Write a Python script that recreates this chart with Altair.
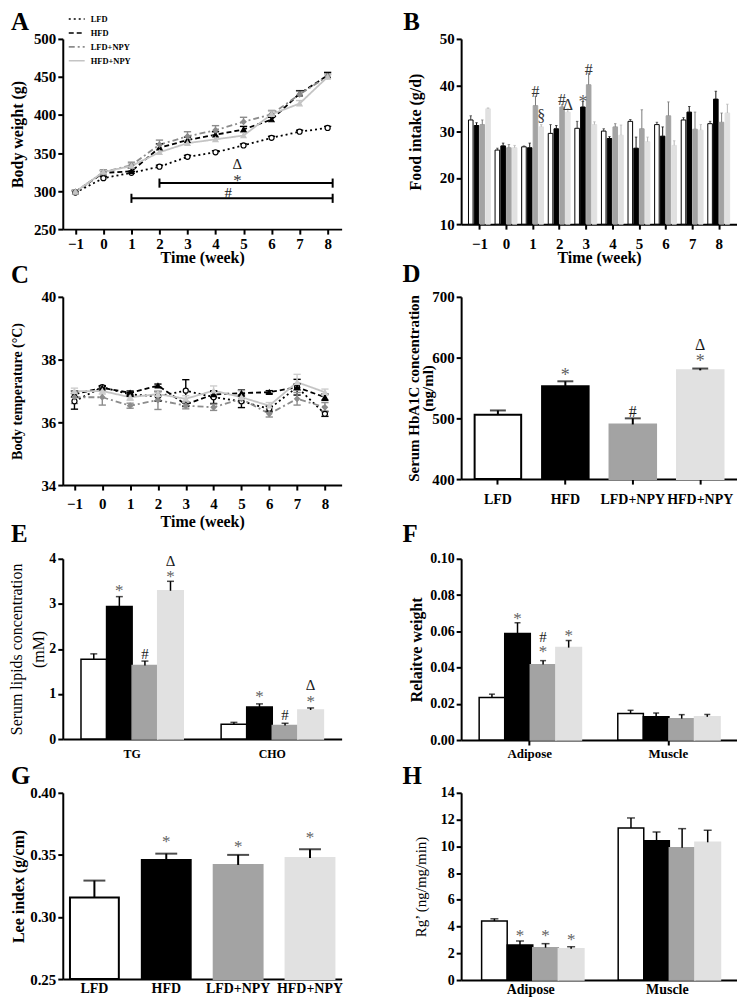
import altair as alt
import pandas as pd

FONT = "Liberation Serif"
SERIES = ["LFD", "HFD", "LFD+NPY", "HFD+NPY"]
SERIES_JS = "['LFD', 'HFD', 'LFD+NPY', 'HFD+NPY']"
WEEKS = [-1, 0, 1, 2, 3, 4, 5, 6, 7, 8]

# ---------------- A: body weight (g) ----------------
A_LFD = [298, 317, 324, 332, 345, 351, 360, 370, 378, 383]
A_HFD = [299, 324, 326, 357, 367, 374, 381, 394, 428, 452]
A_LFD_NPY = [299, 325, 334, 361, 372, 380, 391, 401, 427, 451]
A_HFD_NPY = [299, 325, 333, 351, 363, 368, 373, 401, 415, 450]
A_LFD_SEM = [2, 2, 2, 2, 2, 2, 2, 2, 2, 2]
A_HFD_SEM = [2, 3, 4, 5, 4, 4, 4, 3, 4, 4]
A_LFD_NPY_SEM = [2, 3, 4, 6, 6, 6, 6, 5, 4, 3]
A_HFD_NPY_SEM = [2, 2, 3, 4, 4, 4, 4, 4, 4, 3]
A_BRACKET_FROM = [2, 1]
A_BRACKET_TO = [8.18, 8.18]
A_BRACKET_Y = [310.5, 290.5]
A_SIG_X = [4.78, 4.78, 4.45]
A_SIG_Y = [336, 318, 297]
A_SIG_TEXT = ["Δ", "*", "#"]

# ---------------- B: food intake (g/d) ----------------
B_LFD = [32.5, 26.0, 26.7, 29.6, 30.7, 30.1, 32.2, 31.5, 32.5, 31.7]
B_HFD = [31.3, 26.9, 26.5, 30.6, 35.3, 28.5, 26.4, 29.0, 34.2, 37.0]
B_LFD_NPY = [31.5, 26.5, 35.6, 35.3, 40.1, 31.0, 30.6, 33.4, 30.5, 32.0]
B_HFD_NPY = [34.9, 26.5, 31.0, 34.2, 31.5, 29.2, 27.8, 27.0, 30.3, 34.0]
B_LFD_ERR = [0.9, 0.4, 0.2, 1.9, 1.5, 0.5, 0.4, 0.5, 0.5, 0.5]
B_HFD_ERR = [0.6, 0.6, 1.0, 0.7, 1.2, 0.4, 2.4, 2.0, 1.2, 1.7]
B_LFD_NPY_ERR = [1.0, 0.7, 2.0, 0.5, 2.5, 0.7, 4.1, 3.0, 3.7, 2.0]
B_HFD_NPY_ERR = [0.2, 0.5, 0.5, 0.7, 0.6, 2.2, 1.0, 1.0, 1.2, 1.9]
B_SIG_WEEK = [1, 1, 2, 2, 3, 3]
B_SIG_SERIES = ["LFD+NPY", "HFD+NPY", "LFD+NPY", "HFD+NPY", "HFD", "LFD+NPY"]
B_SIG_Y = [38.6, 33.3, 36.9, 35.8, 37.0, 43.3]
B_SIG_TEXT = ["#", "§", "#", "Δ", "*", "#"]

# ---------------- C: body temperature (°C) ----------------
C_LFD = [36.67, 37.12, 36.89, 36.83, 37.01, 36.80, 36.67, 36.43, 37.12, 36.27]
C_HFD = [36.90, 37.10, 36.94, 37.17, 36.57, 36.89, 36.93, 36.96, 37.12, 36.80]
C_LFD_NPY = [36.80, 36.80, 36.53, 36.71, 36.53, 36.48, 36.75, 36.27, 36.75, 36.48]
C_HFD_NPY = [36.99, 37.00, 36.80, 36.90, 36.75, 37.01, 36.80, 36.53, 37.28, 36.96]
C_LFD_SEM = [0.25, 0.05, 0.06, 0.15, 0.35, 0.20, 0.20, 0.08, 0.25, 0.08]
C_HFD_SEM = [0.10, 0.05, 0.06, 0.05, 0.05, 0.10, 0.10, 0.05, 0.10, 0.10]
C_LFD_NPY_SEM = [0.20, 0.25, 0.08, 0.30, 0.10, 0.10, 0.10, 0.10, 0.20, 0.15]
C_HFD_NPY_SEM = [0.10, 0.10, 0.10, 0.10, 0.10, 0.15, 0.20, 0.10, 0.25, 0.10]

# ---------------- D: serum HbA1C (ng/ml) ----------------
D_MEAN = [506, 553, 490, 579]
D_ERR = [7, 8, 10, 3]
D_SIG_SERIES = ["HFD", "LFD+NPY", "HFD+NPY", "HFD+NPY"]
D_SIG_Y = [577, 510, 600, 621]
D_SIG_TEXT = ["*", "#", "*", "Δ"]

# ---------------- E: serum lipids (mM) ----------------
E_GROUPS = ["TG", "CHO"]
E_LFD = [1.77, 0.33]
E_HFD = [2.94, 0.71]
E_LFD_NPY = [1.63, 0.30]
E_HFD_NPY = [3.29, 0.645]
E_LFD_ERR = [0.12, 0.04]
E_HFD_ERR = [0.22, 0.07]
E_LFD_NPY_ERR = [0.10, 0.05]
E_HFD_NPY_ERR = [0.21, 0.045]
E_SIG_GROUP = ["TG", "TG", "TG", "TG", "CHO", "CHO", "CHO", "CHO"]
E_SIG_SERIES = ["HFD", "LFD+NPY", "HFD+NPY", "HFD+NPY", "HFD", "LFD+NPY", "HFD+NPY", "HFD+NPY"]
E_SIG_Y = [3.37, 1.89, 3.94, 3.68, 1.01, 0.53, 1.19, 0.90]
E_SIG_TEXT = ["*", "#", "Δ", "*", "*", "#", "Δ", "*"]

# ---------------- F: relative weight ----------------
F_GROUPS = ["Adipose", "Muscle"]
F_LFD = [0.0235, 0.0146]
F_HFD = [0.0588, 0.0129]
F_LFD_NPY = [0.0416, 0.0118]
F_HFD_NPY = [0.0510, 0.0128]
F_LFD_ERR = [0.0018, 0.0018]
F_HFD_ERR = [0.0059, 0.0020]
F_LFD_NPY_ERR = [0.0022, 0.0022]
F_HFD_NPY_ERR = [0.0039, 0.0013]
F_SIG_GROUP = ["Adipose", "Adipose", "Adipose", "Adipose"]
F_SIG_SERIES = ["HFD", "LFD+NPY", "LFD+NPY", "HFD+NPY"]
F_SIG_Y = [0.0689, 0.0569, 0.0505, 0.0597]
F_SIG_TEXT = ["*", "#", "*", "*"]

# ---------------- G: Lee index (g/cm) ----------------
G_MEAN = [0.3156, 0.3459, 0.3419, 0.3475]
G_ERR = [0.0137, 0.0051, 0.0081, 0.0070]
G_SIG_SERIES = ["HFD", "LFD+NPY", "HFD+NPY"]
G_SIG_Y = [0.3638, 0.3593, 0.3665]
G_SIG_TEXT = ["*", "*", "*"]

# ---------------- H: Rg' (ng/mg/min) ----------------
H_GROUPS = ["Adipose", "Muscle"]
H_LFD = [4.41, 11.37]
H_HFD = [2.62, 10.42]
H_LFD_NPY = [2.42, 9.90]
H_HFD_NPY = [2.34, 10.30]
H_LFD_ERR = [0.17, 0.75]
H_HFD_ERR = [0.30, 0.65]
H_LFD_NPY_ERR = [0.30, 1.42]
H_HFD_NPY_ERR = [0.15, 0.90]
H_SIG_GROUP = ["Adipose", "Adipose", "Adipose"]
H_SIG_SERIES = ["HFD", "LFD+NPY", "HFD+NPY"]
H_SIG_Y = [3.6, 3.6, 3.3]
H_SIG_TEXT = ["*", "*", "*"]

PANEL_LETTERS = ["A", "B", "C", "D", "E", "F", "G", "H"]


# ================= helpers =================
def letter_layer(t, dx, dy):
    # panel letter, placed relative to the panel's top-left corner
    return alt.Chart(pd.DataFrame({"t": [t]})).mark_text(
        align="left", baseline="alphabetic", font=FONT, fontSize=25, fontWeight="bold",
        color="black", dx=dx, dy=dy).encode(text="t:N", x=alt.value(0), y=alt.value(0))


def spacer(w, h):
    return alt.Chart(pd.DataFrame({"s": [0.5]})).mark_point(opacity=0).encode(
        x=alt.X("s:Q", axis=None, scale=alt.Scale(domain=[0, 1])),
        y=alt.Y("s:Q", axis=None, scale=alt.Scale(domain=[0, 1]))).properties(width=w, height=h)


def line_long(means, sems):
    rows = []
    for s, m, e in zip(SERIES, means, sems):
        for w, v, d in zip(WEEKS, m, e):
            rows.append({"week": w, "series": s, "mean": v, "sem": d})
    return pd.DataFrame(rows)


def bar_long(groups, vals, errs):
    rows = []
    for s, vs, es in zip(SERIES, vals, errs):
        for g, v, e in zip(groups, vs, es):
            rows.append({"group": g, "series": s, "mean": v, "err": e})
    return pd.DataFrame(rows)


def sig_layers(chart_base, X, Y, off, size, star_color="#5f5f5f", other_color="#1a1a1a"):
    star = chart_base.transform_filter("datum.label == '*'").mark_text(
        font=FONT, fontSize=size + 2, dy=4, color=star_color).encode(
        x=X, y=Y("y"), text="label:N", **off)
    other = chart_base.transform_filter("datum.label != '*'").mark_text(
        font=FONT, fontSize=size, color=other_color).encode(
        x=X, y=Y("y"), text="label:N", **off)
    return [star, other]


def line_panel(df, *, width, height, xdom, ydom, yticks, ytitle, ytitle_size,
               xtitle_y, xlab_pad, colors, dashes, shapes, fills,
               leg_x, leg_y, leg_rowpad, two_sided, cap_w, letter, extra=None):
    xs = alt.Scale(domain=xdom, nice=False, zero=False)
    ys = alt.Scale(domain=ydom, nice=False, zero=False)
    xax = alt.Axis(values=WEEKS, format="d", title="Time (week)", titleFontSize=16,
                   titleY=xtitle_y, titleBaseline="middle", labelFontSize=15,
                   labelPadding=xlab_pad, offset=0)
    yax = alt.Axis(values=yticks, title=ytitle, titleFontSize=ytitle_size, titleX=-45,
                   titleBaseline="middle", labelFontSize=15, labelPadding=2, offset=0)

    def X(f="week"):
        return alt.X(f + ":Q", scale=xs, axis=xax)

    def Y(f):
        return alt.Y(f + ":Q", scale=ys, axis=yax)

    leg = alt.Legend(orient="none", legendX=leg_x, legendY=leg_y, title=None,
                     symbolType="stroke", symbolSize=256, symbolStrokeWidth=1.6,
                     labelFont=FONT, labelFontWeight="bold", labelFontSize=8.5,
                     labelColor="black", labelOffset=5, rowPadding=leg_rowpad, padding=0,
                     offset=0)
    col = alt.Color("series:N", scale=alt.Scale(domain=SERIES, range=colors), legend=leg)
    dash = alt.StrokeDash("series:N", scale=alt.Scale(domain=SERIES, range=dashes), legend=leg)
    lo_expr = "datum.mean - datum.sem" if two_sided else "datum.mean"
    base = alt.Chart(df).transform_calculate(
        lo=lo_expr, hi="datum.mean + datum.sem",
        cl=f"datum.week - {cap_w}", cr=f"datum.week + {cap_w}")
    layers = [base.mark_line(strokeWidth=1.8).encode(x=X(), y=Y("mean"), color=col, strokeDash=dash)]
    for s, c in zip(SERIES, colors):
        b = base.transform_filter(alt.datum.series == s)
        layers.append(b.mark_rule(strokeWidth=1.4, color=c).encode(x=X(), y=Y("lo"), y2="hi:Q"))
        layers.append(b.mark_rule(strokeWidth=1.4, color=c).encode(x=X("cl"), x2="cr:Q", y=Y("hi")))
        if two_sided:
            layers.append(b.mark_rule(strokeWidth=1.4, color=c).encode(x=X("cl"), x2="cr:Q", y=Y("lo")))
    for s, c, sh, f in zip(SERIES, colors, shapes, fills):
        b = base.transform_filter(alt.datum.series == s)
        layers.append(b.mark_point(shape=sh, size=26, opacity=1, strokeWidth=1.2, fill=f,
                                   stroke=c, filled=False).encode(x=X(), y=Y("mean")))
    if extra is not None:
        layers.extend(extra(X, Y))
    layers.append(letter)
    return alt.layer(*layers).properties(width=width, height=height)


def bar_panel(df, sig, *, width, height, groups, grouped, ydom, yticks, yfmt, ylab_size,
              ytitle, ytitle_size, ytitle_weight, ytitle_x, ytitle_lh,
              xlab_size, xlab_pad, xticks,
              pad_inner, pad_outer, fills, strokes, bar_sw,
              err_sw, cap, legend, letter, sig_size):
    X = alt.X("group:N", sort=groups,
              scale=alt.Scale(domain=groups, paddingInner=pad_inner, paddingOuter=pad_outer),
              axis=alt.Axis(title=None, labelAngle=0, ticks=xticks, labelFontSize=xlab_size,
                            labelPadding=xlab_pad, offset=0))
    ys = alt.Scale(domain=ydom, nice=False, zero=False)
    yax = alt.Axis(values=yticks, format=yfmt, labelFontSize=ylab_size, labelPadding=2,
                   title=ytitle, titleFontSize=ytitle_size, titleFontWeight=ytitle_weight,
                   titleX=ytitle_x, titleBaseline="middle", titleLineHeight=ytitle_lh, offset=0)

    def Y(f):
        return alt.Y(f + ":Q", scale=ys, axis=yax)

    off = {}
    if grouped:
        off = {"xOffset": alt.XOffset("series:N", sort=SERIES,
                                      scale=alt.Scale(domain=SERIES, paddingInner=0,
                                                      paddingOuter=0))}
    fill = alt.Fill("series:N", scale=alt.Scale(domain=SERIES, range=fills), legend=legend)
    stroke = alt.Stroke("series:N", scale=alt.Scale(domain=SERIES, range=strokes), legend=legend)
    base = alt.Chart(df).transform_calculate(hi="datum.mean + datum.err")
    layers = [
        base.mark_bar(strokeWidth=bar_sw).encode(
            x=X, y=Y("mean"), y2=alt.datum(ydom[0]), fill=fill, stroke=stroke, **off),
        base.mark_rule(strokeWidth=err_sw, color="black").encode(x=X, y=Y("mean"), y2="hi:Q", **off),
        base.mark_tick(orient="horizontal", size=cap, thickness=err_sw, color="black").encode(
            x=X, y=Y("hi"), **off),
    ]
    layers.extend(sig_layers(alt.Chart(sig), X, Y, off, sig_size))
    layers.append(letter)
    return alt.layer(*layers).properties(width=width, height=height)


def bar_legend(lx, ly):
    return alt.Legend(orient="none", legendX=lx, legendY=ly, title=None,
                      symbolType="M-1,-0.38H1V0.38H-1Z", symbolSize=144, symbolStrokeWidth=1,
                      labelFont=FONT, labelFontWeight="bold", labelFontSize=8.5,
                      labelColor="black", labelOffset=4, rowPadding=-3, padding=0, offset=0)


LW, RW = 280, 277

# ---------------- build A ----------------
dfA = line_long([A_LFD, A_HFD, A_LFD_NPY, A_HFD_NPY],
                [A_LFD_SEM, A_HFD_SEM, A_LFD_NPY_SEM, A_HFD_NPY_SEM])
brk = pd.DataFrame({"x1": A_BRACKET_FROM, "x2": A_BRACKET_TO, "y": A_BRACKET_Y})
sigA = pd.DataFrame({"x": A_SIG_X, "y": A_SIG_Y, "label": A_SIG_TEXT})


def extraA(X, Y):
    b = alt.Chart(brk).transform_calculate(lo="datum.y - 6", hi="datum.y + 6")
    h = b.mark_rule(strokeWidth=2, color="black").encode(x=X("x1"), x2="x2:Q", y=Y("y"))
    l = b.mark_rule(strokeWidth=2, color="black").encode(x=X("x1"), y=Y("lo"), y2="hi:Q")
    r = b.mark_rule(strokeWidth=2, color="black").encode(x=X("x2"), y=Y("lo"), y2="hi:Q")
    t = sig_layers(alt.Chart(sigA), X("x"), Y, {}, 15, star_color="#333333")
    return [h, l, r] + t


chartA = line_panel(
    dfA, width=LW, height=191, xdom=[-1.45, 8.5], ydom=[250, 500],
    yticks=[250, 300, 350, 400, 450, 500], ytitle="Body weight (g)", ytitle_size=16,
    xtitle_y=29, xlab_pad=2,
    colors=["black", "black", "#8c8c8c", "#c4c4c4"],
    dashes=[[2, 3], [5, 3], [6, 3, 2, 3], [1, 0]],
    shapes=["circle", "triangle-up", "diamond", "triangle-up"],
    fills=["white", "black", "#8c8c8c", "#c4c4c4"],
    leg_x=5, leg_y=-5, leg_rowpad=-7, two_sided=False, cap_w=0.13,
    letter=letter_layer(PANEL_LETTERS[0], -52, -9), extra=extraA)

# ---------------- build B (bars placed on a week axis) ----------------
B_SUBSTEP = 0.2166
dfB = pd.DataFrame([
    {"week": w, "series": s, "mean": v, "err": e}
    for s, vs, es in zip(SERIES, [B_LFD, B_HFD, B_LFD_NPY, B_HFD_NPY],
                         [B_LFD_ERR, B_HFD_ERR, B_LFD_NPY_ERR, B_HFD_NPY_ERR])
    for w, v, e in zip(WEEKS, vs, es)])
sigB = pd.DataFrame({"week": B_SIG_WEEK, "series": B_SIG_SERIES, "y": B_SIG_Y, "label": B_SIG_TEXT})
xpos = f"datum.week + (indexof({SERIES_JS}, datum.series) - 1.5) * {B_SUBSTEP}"
xsB = alt.Scale(domain=[-1.5, 8.5], nice=False, zero=False)
xaxB = alt.Axis(values=WEEKS, format="d", title="Time (week)", titleFontSize=16, titleY=34,
                titleBaseline="middle", labelFontSize=15, labelPadding=7, offset=0)
ysB = alt.Scale(domain=[10, 50], nice=False, zero=False)
yaxB = alt.Axis(values=[10, 20, 30, 40, 50], format="d", labelFontSize=15, labelPadding=2,
                title="Food intake (g/d)", titleFontSize=16, titleX=-46, titleBaseline="middle",
                offset=0)
XB = alt.X("xp:Q", scale=xsB, axis=xaxB)


def YB(f):
    return alt.Y(f + ":Q", scale=ysB, axis=yaxB)


B_FILLS = ["white", "black", "#a3a3a3", "#e1e1e1"]
B_STROKES = ["black", "black", "#a3a3a3", "#e1e1e1"]
B_ERRC = ["#333333", "#111111", "#7a7a7a", "#b5b5b5"]
legB = bar_legend(8, -7)
baseB = alt.Chart(dfB).transform_calculate(xp=xpos, hi="datum.mean + datum.err")
layersB = [baseB.mark_bar(size=4.6, strokeWidth=1).encode(
    x=XB, y=YB("mean"), y2=alt.datum(10),
    fill=alt.Fill("series:N", scale=alt.Scale(domain=SERIES, range=B_FILLS), legend=legB),
    stroke=alt.Stroke("series:N", scale=alt.Scale(domain=SERIES, range=B_STROKES), legend=legB))]
for s, c in zip(SERIES, B_ERRC):
    b = baseB.transform_filter(alt.datum.series == s)
    layersB.append(b.mark_rule(strokeWidth=1, color=c).encode(x=XB, y=YB("mean"), y2="hi:Q"))
    layersB.append(b.mark_tick(orient="horizontal", size=2.5, thickness=1, color=c).encode(
        x=XB, y=YB("hi")))
layersB.extend(sig_layers(alt.Chart(sigB).transform_calculate(xp=xpos), XB, YB, {}, 16,
                          other_color="#333333"))
layersB.append(letter_layer(PANEL_LETTERS[1], -58, -9))
chartB = alt.layer(*layersB).properties(width=RW, height=186)

# ---------------- build C ----------------
dfC = line_long([C_LFD, C_HFD, C_LFD_NPY, C_HFD_NPY],
                [C_LFD_SEM, C_HFD_SEM, C_LFD_NPY_SEM, C_HFD_NPY_SEM])
chartC = line_panel(
    dfC, width=LW, height=189, xdom=[-1.42, 8.6], ydom=[34, 40],
    yticks=[34, 36, 38, 40], ytitle="Body temperature (°C)", ytitle_size=14,
    xtitle_y=37, xlab_pad=7,
    colors=["black", "black", "#8c8c8c", "#cdcdcd"],
    dashes=[[1, 0], [5, 3], [6, 3, 2, 3], [1, 0]],
    shapes=["circle", "triangle-up", "diamond", "triangle-up"],
    fills=["white", "black", "#8c8c8c", "#cdcdcd"],
    leg_x=5, leg_y=-5, leg_rowpad=-6, two_sided=True, cap_w=0.13,
    letter=letter_layer(PANEL_LETTERS[2], -52, -14))

# ---------------- build D ----------------
dfD = pd.DataFrame({"group": SERIES, "series": SERIES, "mean": D_MEAN, "err": D_ERR})
sigD = pd.DataFrame({"group": D_SIG_SERIES, "series": D_SIG_SERIES, "y": D_SIG_Y, "label": D_SIG_TEXT})
chartD = bar_panel(
    dfD, sigD, width=RW, height=183, groups=SERIES, grouped=False,
    ydom=[400, 700], yticks=[400, 500, 600, 700], yfmt="d", ylab_size=15,
    ytitle=["Serum HbA1C concentration", "(ng/ml)"], ytitle_size=15, ytitle_weight="bold",
    ytitle_x=-48, ytitle_lh=14,
    xlab_size=14, xlab_pad=9, xticks=True,
    pad_inner=0.31, pad_outer=0.2,
    fills=["white", "black", "#a0a0a0", "#e4e4e4"],
    strokes=["black", "black", "#a0a0a0", "#e4e4e4"], bar_sw=2,
    err_sw=2, cap=16, legend=None, letter=letter_layer(PANEL_LETTERS[3], -59, -15), sig_size=16)

# ---------------- build E ----------------
dfE = bar_long(E_GROUPS, [E_LFD, E_HFD, E_LFD_NPY, E_HFD_NPY],
               [E_LFD_ERR, E_HFD_ERR, E_LFD_NPY_ERR, E_HFD_NPY_ERR])
sigE = pd.DataFrame({"group": E_SIG_GROUP, "series": E_SIG_SERIES, "y": E_SIG_Y, "label": E_SIG_TEXT})
chartE = bar_panel(
    dfE, sigE, width=LW, height=181, groups=E_GROUPS, grouped=True,
    ydom=[0, 4], yticks=[0, 1, 2, 3, 4], yfmt="d", ylab_size=14,
    ytitle=["Serum lipids concentration", "(mM)"], ytitle_size=16, ytitle_weight="normal",
    ytitle_x=-46, ytitle_lh=22,
    xlab_size=12, xlab_pad=10, xticks=False,
    pad_inner=0.27, pad_outer=0.13,
    fills=["white", "black", "#8c8c8c", "#dcdcdc"],
    strokes=["black", "black", "#8c8c8c", "#dcdcdc"], bar_sw=1.5,
    err_sw=1.5, cap=7, legend=bar_legend(10, -17),
    letter=letter_layer(PANEL_LETTERS[4], -52, -17), sig_size=15)

# ---------------- build F ----------------
dfF = bar_long(F_GROUPS, [F_LFD, F_HFD, F_LFD_NPY, F_HFD_NPY],
               [F_LFD_ERR, F_HFD_ERR, F_LFD_NPY_ERR, F_HFD_NPY_ERR])
sigF = pd.DataFrame({"group": F_SIG_GROUP, "series": F_SIG_SERIES, "y": F_SIG_Y, "label": F_SIG_TEXT})
chartF = bar_panel(
    dfF, sigF, width=RW, height=182, groups=F_GROUPS, grouped=True,
    ydom=[0, 0.10], yticks=[0, 0.02, 0.04, 0.06, 0.08, 0.10], yfmt=".2f", ylab_size=14,
    ytitle="Relaitve weight", ytitle_size=16, ytitle_weight="bold", ytitle_x=-45, ytitle_lh=16,
    xlab_size=13, xlab_pad=3, xticks=True,
    pad_inner=0.27, pad_outer=0.13,
    fills=["white", "black", "#8f8f8f", "#dcdcdc"],
    strokes=["black", "black", "#8f8f8f", "#dcdcdc"], bar_sw=1.5,
    err_sw=1.5, cap=6, legend=None, letter=letter_layer(PANEL_LETTERS[5], -59, -17), sig_size=15)

# ---------------- build G ----------------
dfG = pd.DataFrame({"group": SERIES, "series": SERIES, "mean": G_MEAN, "err": G_ERR})
sigG = pd.DataFrame({"group": G_SIG_SERIES, "series": G_SIG_SERIES, "y": G_SIG_Y, "label": G_SIG_TEXT})
chartG = bar_panel(
    dfG, sigG, width=LW, height=187, groups=SERIES, grouped=False,
    ydom=[0.25, 0.40], yticks=[0.25, 0.30, 0.35, 0.40], yfmt=".2f", ylab_size=15,
    ytitle="Lee index (g/cm)", ytitle_size=16, ytitle_weight="bold", ytitle_x=-44, ytitle_lh=16,
    xlab_size=14, xlab_pad=3, xticks=False,
    pad_inner=0.32, pad_outer=0.1,
    fills=["white", "black", "#8f8f8f", "#dcdcdc"],
    strokes=["black", "black", "#8f8f8f", "#dcdcdc"], bar_sw=2,
    err_sw=2, cap=22, legend=None, letter=letter_layer(PANEL_LETTERS[6], -52, -9), sig_size=15)

# ---------------- build H ----------------
dfH = bar_long(H_GROUPS, [H_LFD, H_HFD, H_LFD_NPY, H_HFD_NPY],
               [H_LFD_ERR, H_HFD_ERR, H_LFD_NPY_ERR, H_HFD_NPY_ERR])
sigH = pd.DataFrame({"group": H_SIG_GROUP, "series": H_SIG_SERIES, "y": H_SIG_Y, "label": H_SIG_TEXT})
chartH = bar_panel(
    dfH, sigH, width=RW, height=188, groups=H_GROUPS, grouped=True,
    ydom=[0, 14], yticks=[0, 2, 4, 6, 8, 10, 12, 14], yfmt="d", ylab_size=14,
    ytitle="Rg’ (ng/mg/min)", ytitle_size=15, ytitle_weight="normal", ytitle_x=-41, ytitle_lh=15,
    xlab_size=14, xlab_pad=3, xticks=False,
    pad_inner=0.28, pad_outer=0.15,
    fills=["white", "black", "#8c8c8c", "#c8c8c8"],
    strokes=["black", "black", "#8c8c8c", "#c8c8c8"], bar_sw=1.5,
    err_sw=1.5, cap=8, legend=None, letter=letter_layer(PANEL_LETTERS[7], -59, -9), sig_size=15)

cells = [
    spacer(LW, 24), spacer(RW, 24),
    chartA, chartB,
    spacer(LW, 68), spacer(RW, 68),
    chartC, chartD,
    spacer(LW, 74), spacer(RW, 74),
    chartE, chartF,
    spacer(LW, 53), spacer(RW, 53),
    chartG, chartH,
]

chart = alt.concat(*cells, columns=2, spacing={"row": 0, "column": 120}, bounds="flush").properties(
    padding={"left": 0, "top": 0, "right": 0, "bottom": 0}
).configure_view(stroke=None).configure_axis(
    domainColor="black", domainWidth=2, tickColor="black", tickWidth=2, tickSize=5,
    labelFont=FONT, labelFontWeight="bold", labelColor="black",
    titleFont=FONT, titleFontWeight="bold", titleColor="black",
    grid=False, labelFlush=False
).configure_legend(labelFont=FONT)

chart.save("out.html", embed_options={"renderer": "svg", "actions": False})
